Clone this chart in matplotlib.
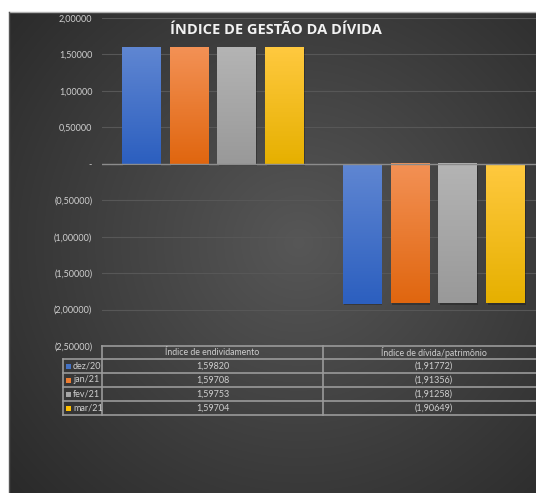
import numpy as np
import matplotlib
matplotlib.use("Agg")
import matplotlib.pyplot as plt
from matplotlib.colors import LinearSegmentedColormap
import matplotlib.patches as patches

# Dados
indicadores = ["Índice de endividamento", "Índice de dívida/patrimônio"]
meses = ["dez/20", "jan/21", "fev/21", "mar/21"]
endividamento = [1.59820, 1.59708, 1.59753, 1.59704]
divida_patrimonio = [-1.91772, -1.91356, -1.91258, -1.90649]
valores = np.array([endividamento, divida_patrimonio]).T  # linhas = meses
yticks = [2.0, 1.5, 1.0, 0.5, 0.0, -0.5, -1.0, -1.5, -2.0, -2.5]

# Cores (topo, base) de cada série
cores = [("#5f86d2", "#2c5fbf"), ("#f39155", "#e0660f"),
         ("#b4b4b4", "#999999"), ("#ffc93f", "#e6b000")]
cor_legenda = ["#4472c4", "#ed7d31", "#a5a5a5", "#ffc000"]
COR_TEXTO = "#cfcfcf"
FONTE = "Lato"

W, H = 536, 493
fig = plt.figure(figsize=(W / 100, H / 100), dpi=100)
fig.patch.set_facecolor("white")

# Fundo com gradiente radial
bg = fig.add_axes([9 / W, 0, 1 - 9 / W, (H - 12) / H])
bg.set_zorder(0)
yy, xx = np.mgrid[0:1:300j, 0:1:300j]
r = np.sqrt(((xx - 0.55) / 0.75) ** 2 + ((yy - 0.48) / 0.8) ** 2)
lum = 0.34 - 0.18 * np.clip(r, 0, 1)
img = np.dstack([lum, lum, lum])
bg.imshow(img, aspect="auto", extent=[0, 1, 0, 1], origin="upper")
bg.set_xlim(0, 1)
bg.set_ylim(0, 1)
bg.axis("off")

# Eixo principal
x_left, x_right = 102, 544
y_top, y_bot = 18, 346
ax = fig.add_axes([x_left / W, (H - y_bot) / H, (x_right - x_left) / W, (y_bot - y_top) / H])
ax.set_zorder(1)
ax.patch.set_alpha(0)
ymin, ymax = -2.5, 2.0
xmin, xmax = -0.5, 1.5

largura = 0.172
passo = 0.217
x = np.arange(len(indicadores))
for i, mes in enumerate(meses):
    pos = x + (i - 1.5) * passo
    barras = ax.bar(pos, valores[i], largura, color=cor_legenda[i], zorder=3)
    cmap = LinearSegmentedColormap.from_list("g%d" % i, [cores[i][0], cores[i][1]])
    grad = np.linspace(0, 1, 100).reshape(-1, 1)
    for b in barras:
        x0, y0 = b.get_x(), b.get_y()
        w, h = b.get_width(), b.get_height()
        ylo, yhi = min(y0, y0 + h), max(y0, y0 + h)
        # sombra
        ax.add_patch(patches.Rectangle((x0 + 0.006, ylo - 0.025), w, yhi - ylo,
                                       facecolor="black", alpha=0.25, zorder=2, lw=0))
        ax.imshow(grad, cmap=cmap, aspect="auto", origin="upper",
                  extent=[x0, x0 + w, ylo, yhi], zorder=4)

ax.set_xlim(xmin, xmax)
ax.set_ylim(ymin, ymax)
for v in yticks:
    if v == 0:
        ax.axhline(v, color="#8c8c8c", lw=1.0, zorder=5)
    else:
        ax.axhline(v, color="#575757", lw=0.8, zorder=1)


def fmt(v):
    if v == 0:
        return "-"
    s = f"{abs(v):.5f}".replace(".", ",")
    return f"({s})" if v < 0 else s


ax.set_yticks(yticks)
ax.set_yticklabels([fmt(v) for v in yticks], fontsize=6.5, color=COR_TEXTO, family=FONTE)
ax.tick_params(axis="y", length=0, pad=7)
ax.set_xticks([])
for s in ax.spines.values():
    s.set_visible(False)

# Camada em coordenadas de pixel para título e tabela
tx = fig.add_axes([0, 0, 1, 1])
tx.set_zorder(2)
tx.patch.set_alpha(0)
tx.set_xlim(0, W)
tx.set_ylim(H, 0)
tx.axis("off")

tx.plot([9, W], [12, 12], color="#b0b0b0", lw=1)
tx.plot([9, 9], [12, H], color="#555555", lw=1)

tx.text(276, 30, "ÍNDICE DE GESTÃO DA DÍVIDA", ha="center", va="center",
        fontsize=10.5, fontweight="bold", color="#f2f2f2", family="Open Sans")

# Tabela de dados
linha_cor = "#9a9a9a"
topo, cab = 346, 359
alt = 14
col0, col1, col2 = 63, 102, 323
fim = W
base = cab + alt * len(meses)
tx.plot([col1, fim], [topo, topo], color=linha_cor, lw=1.2)
for k in range(len(meses) + 1):
    yk = cab + k * alt
    tx.plot([col0, fim], [yk, yk], color=linha_cor, lw=1.2)
tx.plot([col0, col0], [cab, base], color=linha_cor, lw=1.2)
tx.plot([col1, col1], [topo, base], color=linha_cor, lw=1.2)
tx.plot([col2, col2], [topo, base], color=linha_cor, lw=1.2)

centros = [(col1 + col2) / 2, (col2 + 544) / 2]
for j, nome in enumerate(indicadores):
    tx.text(centros[j], (topo + cab) / 2, nome, ha="center", va="center",
            fontsize=6.3, color=COR_TEXTO, family=FONTE)
for i, mes in enumerate(meses):
    yc = cab + i * alt + alt / 2
    tx.add_patch(patches.Rectangle((66, yc - 2.5), 5, 5, facecolor=cor_legenda[i], lw=0))
    tx.text(73, yc, mes, ha="left", va="center", fontsize=6.5, color=COR_TEXTO, family=FONTE)
    for j in range(len(indicadores)):
        tx.text(centros[j], yc, fmt(valores[i][j]), ha="center", va="center",
                fontsize=6.5, color=COR_TEXTO, family=FONTE)

fig.savefig("out.png", dpi=100)
